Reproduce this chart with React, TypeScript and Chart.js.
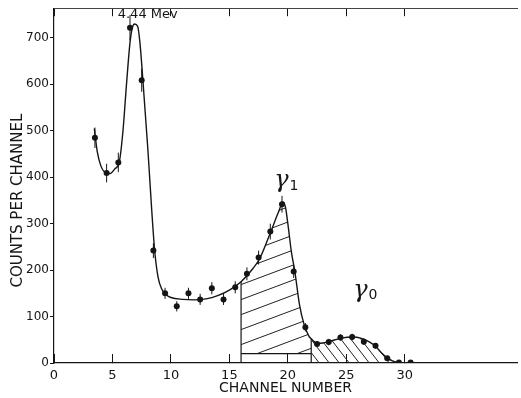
import React, { useEffect, useRef } from "react";
import { Chart, registerables } from "chart.js";

Chart.register(...registerables);

// Measured spectrum: channel centres, counts and error-bar half-lengths
const channels = [3.5, 4.5, 5.5, 6.5, 7.5, 8.5, 9.5, 10.5, 11.5, 12.5, 13.5, 14.5, 15.5, 16.5, 17.5, 18.5, 19.5, 20.5, 21.5, 22.5, 23.5, 24.5, 25.5, 26.5, 27.5, 28.5, 29.5, 30.5];
const counts = [485, 409, 432, 722, 609, 242, 150, 122, 150, 137, 161, 137, 163, 192, 227, 283, 342, 197, 77, 41, 45, 55, 56, 46, 37, 10, 1, 1];
const errors = [22, 20, 21, 27, 25, 16, 12, 11, 12, 12, 13, 12, 13, 14, 15, 17, 18, 14, 9, 6, 7, 7, 7, 7, 6, 3, 1, 1];

// Hand-drawn fitted curve
const curveX = [3.45, 3.7, 4.0, 4.4, 4.8, 5.2, 5.6, 5.9, 6.2, 6.5, 6.7, 6.9, 7.15, 7.35, 7.6, 8.0, 8.6, 8.9, 9.2, 9.6, 10, 11, 12, 13, 14, 15, 16, 17, 17.6, 18.5, 19.2, 19.6, 19.8, 20.0, 20.3, 20.6, 21.0, 21.4, 21.8, 22.0, 22.3, 22.6, 23.0, 23.5, 24.5, 25.5, 26.3, 27.0, 27.5, 28.0, 28.5, 29.0, 29.5, 30.0];
const curveY = [505, 455, 425, 410, 408, 418, 435, 500, 600, 690, 722, 730, 725, 690, 610, 470, 245, 185, 160, 147, 141, 137, 136, 138, 145, 157, 175, 203, 225, 280, 325, 347, 335, 300, 240, 197, 125, 82, 58, 52, 45, 42, 43, 46, 53, 56, 53, 45, 36, 22, 11, 4, 1, 0];

const xTicks = [0, 5, 10, 15, 20, 25, 30];
const yTicks = [0, 100, 200, 300, 400, 500, 600, 700];
const X_MAX = 39.6;
const Y_MAX = 764;

const gamma1Range = [16, 22];
const gamma1Base = 20;
const gamma0Range = [22, 30];

const peakLabel = { text: "4.44 Mev", x: 5.45, y: 750 };
const gammaLabels = [
  { sym: "γ", sub: "1", x: 19.45, y: 392 },
  { sym: "γ", sub: "0", x: 26.2, y: 156 },
];
const yTitle = "COUNTS PER CHANNEL";
const xTitle = "CHANNEL NUMBER";

const INK = "#151515";

function curveAt(x: number): number {
  const i = curveX.indexOf(x);
  return i >= 0 ? curveY[i] : 0;
}

function makeHatch(ctx: CanvasRenderingContext2D, w: number, h: number, up: boolean) {
  const c = document.createElement("canvas");
  c.width = w;
  c.height = h;
  const g = c.getContext("2d")!;
  g.strokeStyle = "#222";
  g.lineWidth = 1;
  g.beginPath();
  for (let k = -1; k <= 1; k++) {
    if (up) {
      g.moveTo(-w, 2 * h + k * h);
      g.lineTo(2 * w, -h + k * h);
    } else {
      g.moveTo(-w, -h + k * h);
      g.lineTo(2 * w, 2 * h + k * h);
    }
  }
  g.stroke();
  return ctx.createPattern(c, "repeat");
}

const overlay = {
  id: "overlay",
  afterDatasetsDraw(chart: any) {
    const { ctx, scales, chartArea } = chart;
    const x = scales.x;
    const y = scales.y;
    ctx.save();
    ctx.strokeStyle = INK;
    ctx.lineWidth = 1;
    channels.forEach((c, i) => {
      const px = x.getPixelForValue(c);
      ctx.beginPath();
      ctx.moveTo(px, y.getPixelForValue(counts[i] - errors[i]));
      ctx.lineTo(px, y.getPixelForValue(counts[i] + errors[i]));
      ctx.stroke();
    });
    ctx.fillStyle = INK;
    ctx.font = '13px "DejaVu Sans"';
    ctx.textBaseline = "middle";
    ctx.textAlign = "left";
    ctx.fillText(peakLabel.text, x.getPixelForValue(peakLabel.x), y.getPixelForValue(peakLabel.y));
    gammaLabels.forEach((gl) => {
      const px = x.getPixelForValue(gl.x);
      const py = y.getPixelForValue(gl.y);
      ctx.font = 'italic 24px "DejaVu Serif"';
      ctx.textAlign = "center";
      ctx.fillText(gl.sym, px, py);
      const w = ctx.measureText(gl.sym).width;
      ctx.font = '14px "DejaVu Sans"';
      ctx.textAlign = "left";
      ctx.fillText(gl.sub, px + w / 2 + 1, py + 5);
    });
    // rotated y title
    ctx.translate(18, (chartArea.top + chartArea.bottom) / 2 + 15);
    ctx.rotate(-Math.PI / 2);
    ctx.font = '15px "DejaVu Sans"';
    ctx.textAlign = "center";
    ctx.fillText(yTitle, 0, 0);
    ctx.restore();
  },
};

export default function App() {
  const ref = useRef<HTMLCanvasElement>(null);
  useEffect(() => {
    const canvas = ref.current!;
    const ctx = canvas.getContext("2d")!;
    const hatch1 = makeHatch(ctx, 40, 15, true);
    const hatch0 = makeHatch(ctx, 10, 13, false);

    const curvePts = curveX.map((x, i) => ({ x, y: curveY[i] }));
    const g1 = curvePts.filter((p) => p.x >= gamma1Range[0] && p.x <= gamma1Range[1]);
    const g0 = curvePts.filter((p) => p.x >= gamma0Range[0] && p.x <= gamma0Range[1]);

    const lineBase = {
      borderColor: INK,
      borderWidth: 1.2,
      pointRadius: 0,
      fill: false,
      tension: 0,
    };

    const chart = new Chart(canvas, {
      type: "line",
      data: {
        datasets: [
          {
            data: channels.map((x, i) => ({ x, y: counts[i] })),
            showLine: false,
            pointRadius: 3,
            pointBackgroundColor: INK,
            pointBorderColor: INK,
            pointBorderWidth: 0,
            order: 0,
          } as any,
          {
            data: curvePts,
            borderColor: INK,
            borderWidth: 1.4,
            pointRadius: 0,
            cubicInterpolationMode: "monotone",
            fill: false,
            order: 1,
          },
          { ...lineBase, data: [{ x: gamma1Range[0], y: 0 }, { x: gamma1Range[0], y: curveAt(gamma1Range[0]) }], order: 2 },
          { ...lineBase, data: [{ x: gamma1Range[1], y: 0 }, { x: gamma1Range[1], y: curveAt(gamma1Range[1]) }], order: 2 },
          { ...lineBase, data: [{ x: gamma1Range[0], y: gamma1Base }, { x: gamma1Range[1], y: gamma1Base }], order: 2 },
          {
            data: g1,
            borderWidth: 0,
            borderColor: "rgba(0,0,0,0)",
            pointRadius: 0,
            cubicInterpolationMode: "monotone",
            backgroundColor: hatch1 as any,
            fill: { value: gamma1Base },
            order: 3,
          },
          {
            data: g0,
            borderWidth: 0,
            borderColor: "rgba(0,0,0,0)",
            pointRadius: 0,
            cubicInterpolationMode: "monotone",
            backgroundColor: hatch0 as any,
            fill: "origin",
            order: 3,
          },
        ],
      },
      options: {
        responsive: false,
        animation: false,
        events: [],
        layout: { padding: { top: 7, right: 1, left: 0, bottom: 0 } },
        plugins: { legend: { display: false }, tooltip: { enabled: false } },
        scales: {
          x: {
            type: "linear",
            position: "bottom",
            min: 0,
            max: X_MAX,
            afterBuildTicks: (s: any) => {
              s.ticks = xTicks.map((v) => ({ value: v }));
            },
            afterFit: (s: any) => {
              s.height = 35;
            },
            grid: { drawOnChartArea: false, drawTicks: true, tickLength: -9, color: INK, lineWidth: 1 },
            border: { display: true, color: INK, width: 1.2 },
            ticks: {
              color: INK,
              font: { family: "DejaVu Sans", size: 13 },
              padding: 14,
              maxRotation: 0,
              autoSkip: false,
            },
            title: {
              display: true,
              text: xTitle,
              color: INK,
              font: { family: "DejaVu Sans", size: 14 },
              padding: { top: 0, bottom: 1 },
            },
          },
          x2: {
            type: "linear",
            position: "top",
            min: 0,
            max: X_MAX,
            afterBuildTicks: (s: any) => {
              s.ticks = xTicks.map((v) => ({ value: v }));
            },
            afterFit: (s: any) => {
              s.height = 0;
            },
            grid: { drawOnChartArea: false, drawTicks: true, tickLength: -8, color: INK, lineWidth: 1 },
            border: { display: true, color: "#444", width: 1 },
            ticks: { display: false },
          },
          y: {
            type: "linear",
            min: 0,
            max: Y_MAX,
            afterBuildTicks: (s: any) => {
              s.ticks = yTicks.map((v) => ({ value: v }));
            },
            afterFit: (s: any) => {
              s.width = 54;
            },
            grid: { drawOnChartArea: false, drawTicks: true, tickLength: 4, color: INK, lineWidth: 1 },
            border: { display: true, color: INK, width: 1.2 },
            ticks: { color: INK, font: { family: "DejaVu Sans", size: 12 }, padding: 1 },
          },
        },
      } as any,
      plugins: [overlay],
    });
    return () => chart.destroy();
  }, []);

  return (
    <div style={{ position: "absolute", left: 0, top: 0, width: 521, height: 398, background: "#fff" }}>
      <canvas ref={ref} width={521} height={398} style={{ display: "block", width: 521, height: 398 }} />
    </div>
  );
}
